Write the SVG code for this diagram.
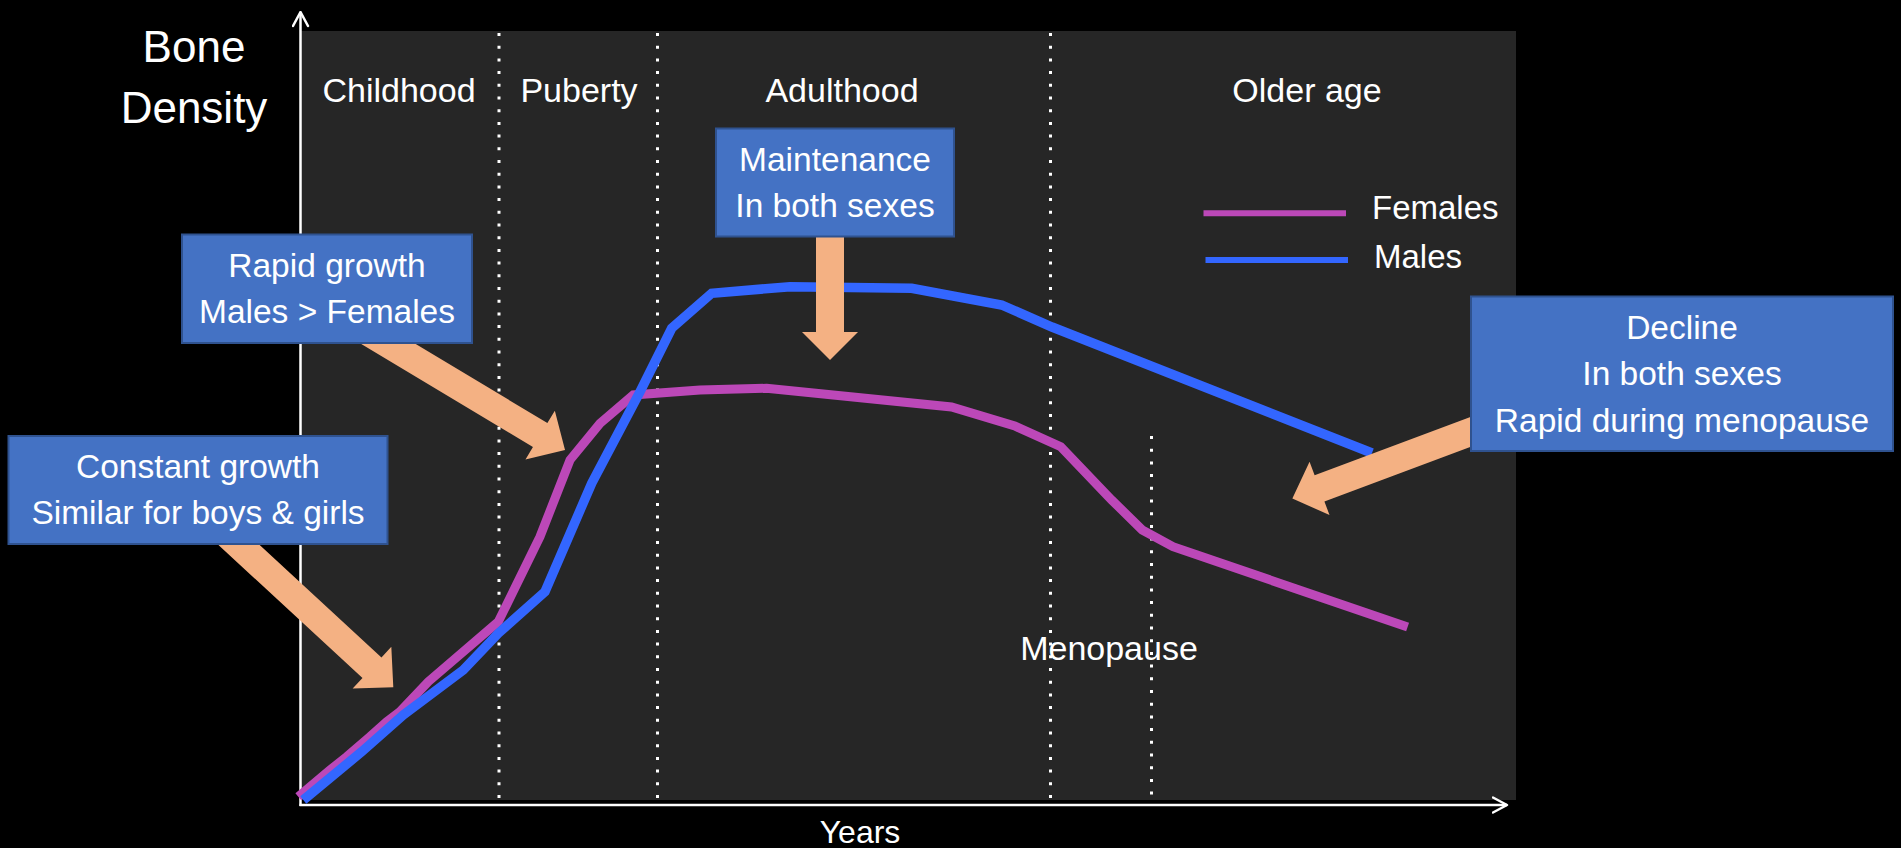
<svg xmlns="http://www.w3.org/2000/svg" width="1901" height="848" viewBox="0 0 1901 848">
  <defs>
    <style>
      text { font-family: "Liberation Sans", Arial, sans-serif; fill: #FFFFFF; }
      .lbl { font-size: 34px; text-anchor: middle; }
      .box { fill: #4472C4; stroke: #2F528F; stroke-width: 2; }
      .btxt { font-size: 33.5px; text-anchor: middle; }
      .arrow { fill: #F4B183; }
      .dots { stroke: #FFFFFF; stroke-width: 3; stroke-dasharray: 3 9.7; fill: none; }
      .axis { stroke: #FFFFFF; stroke-width: 2.5; fill: none; }
      .fem { stroke: #BC48B8; stroke-width: 9; fill: none; stroke-linejoin: miter; }
      .mal { stroke: #3366FF; stroke-width: 9.5; fill: none; stroke-linejoin: miter; }
    </style>
    <marker id="chev" viewBox="0 0 17 18" refX="15.5" refY="9" markerWidth="17" markerHeight="18" markerUnits="userSpaceOnUse" orient="auto">
      <path d="M1.5,1.5 L15.5,9 L1.5,16.5" fill="none" stroke="#FFFFFF" stroke-width="2.5" stroke-linecap="round" stroke-linejoin="round"/>
    </marker>
  </defs>

  <rect x="0" y="0" width="1901" height="848" fill="#000000"/>
  <rect id="plot-area" x="301" y="31" width="1215" height="769" fill="#262626"/>

  <g id="phase-dividers">
    <line class="dots" x1="499" y1="33" x2="499" y2="802"/>
    <line class="dots" x1="657.5" y1="33" x2="657.5" y2="802"/>
    <line class="dots" x1="1050.5" y1="33" x2="1050.5" y2="802"/>
    <line class="dots" x1="1151.5" y1="436" x2="1151.5" y2="806"/>
  </g>

  <g id="phase-labels">
    <text class="lbl" x="399" y="102">Childhood</text>
    <text class="lbl" x="579" y="102">Puberty</text>
    <text class="lbl" x="842" y="102">Adulthood</text>
    <text class="lbl" x="1307" y="102">Older age</text>
    <text class="lbl" x="1109" y="660">Menopause</text>
  </g>

  <g id="axes">
    <line class="axis" x1="300.5" y1="806" x2="300.5" y2="12" marker-end="url(#chev)"/>
    <line class="axis" x1="299.5" y1="805" x2="1507" y2="805" marker-end="url(#chev)"/>
    <text x="194" y="62" style="font-size:44px;text-anchor:middle">Bone</text>
    <text x="194" y="123" style="font-size:44px;text-anchor:middle">Density</text>
    <text x="860" y="843" style="font-size:32px;text-anchor:middle">Years</text>
  </g>

  <g id="curves">
    <polyline class="fem" points="298.3,796.7 330,770 346.7,756.7 370,736.7 386.7,721.7 400,711.7 428.3,681.7 498.3,621.7 540,536.7 570,460 600,423.3 633.3,395 700,390 766.7,388.3 951.5,407 1014.8,426 1060.7,446.7 1111.7,500 1142.3,530 1173,546.7 1407.6,627"/>
    <polyline class="mal" points="303.3,800 361.7,751.7 403.3,715 463.3,670 498.3,633.3 545,591.7 591.7,483.3 640,391.7 671.7,328.3 711.7,293.3 790,286.7 911.7,288.3 1001.7,305 1052,327 1372,453"/>
  </g>

  <g id="legend">
    <line x1="1203.5" y1="213.3" x2="1346" y2="213.3" stroke="#BC48B8" stroke-width="6"/>
    <line x1="1205.5" y1="260" x2="1348" y2="260" stroke="#3366FF" stroke-width="6"/>
    <text x="1372" y="219" style="font-size:33px">Females</text>
    <text x="1374" y="268" style="font-size:33px">Males</text>
  </g>

  <g id="connectors">
    <polygon class="arrow" transform="translate(222.8,530) rotate(42.7)" points="0,-14 203,-14 203,-28.5 232,0 203,28.5 203,14 0,14"/>
    <polygon class="arrow" transform="translate(359.3,326.4) rotate(31)" points="0,-14 211,-14 211,-28.5 240,0 211,28.5 211,14 0,14"/>
    <polygon class="arrow" transform="translate(830,225) rotate(90)" points="0,-14 107,-14 107,-28 135,0 107,28 107,14 0,14"/>
    <polygon class="arrow" transform="translate(1490,424.6) rotate(159.5)" points="0,-14 182,-14 182,-28.5 211,0 182,28.5 182,14 0,14"/>
  </g>

  <g id="box-rapid-growth">
    <rect class="box" x="182" y="234.5" width="290" height="108.5"/>
    <text class="btxt" x="327" y="277">Rapid growth</text>
    <text class="btxt" x="327" y="323">Males &gt; Females</text>
  </g>

  <g id="box-constant-growth">
    <rect class="box" x="8.5" y="436" width="379" height="108"/>
    <text class="btxt" x="198" y="478">Constant growth</text>
    <text class="btxt" x="198" y="524">Similar for boys &amp; girls</text>
  </g>

  <g id="box-maintenance">
    <rect class="box" x="716" y="128.5" width="238" height="108"/>
    <text class="btxt" x="835" y="171">Maintenance</text>
    <text class="btxt" x="835" y="217">In both sexes</text>
  </g>

  <g id="box-decline">
    <rect class="box" x="1471" y="296.5" width="422" height="154.5"/>
    <text class="btxt" x="1682" y="339">Decline</text>
    <text class="btxt" x="1682" y="384.5">In both sexes</text>
    <text class="btxt" x="1682" y="431.5">Rapid during menopause</text>
  </g>
</svg>
